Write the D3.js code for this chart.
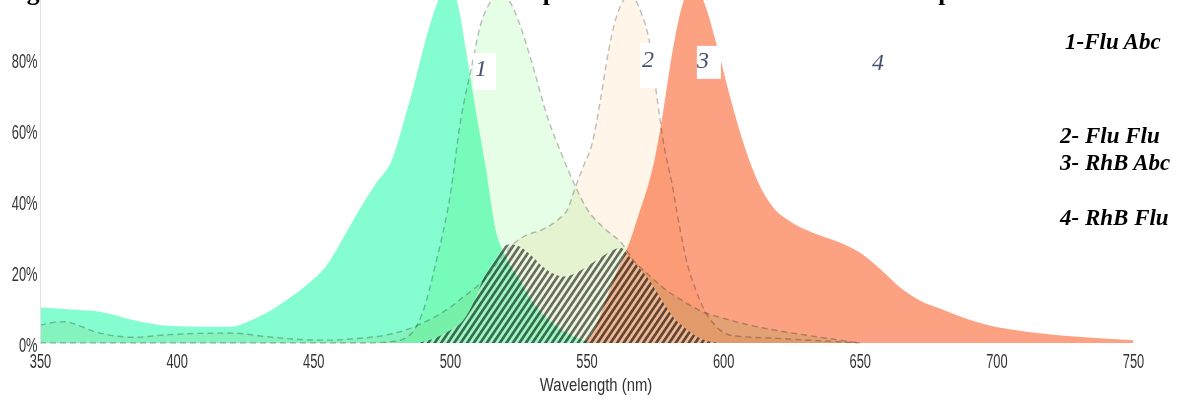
<!DOCTYPE html>
<html>
<head>
<meta charset="utf-8">
<script src="https://cdn.jsdelivr.net/npm/d3@7"></script>
<style>
  body { margin: 0; background: #fff; }
  svg { display: block; }
</style>
</head>
<body>
<div id="chart"></div>
<script>
// spectra: wavelength (nm) and relative intensity (%)
var fluAbsNm  = [350, 360, 372, 384, 398, 410, 420, 426, 433, 440, 447, 455, 462, 468, 473, 479, 483, 487, 491, 495, 499, 503, 506, 510, 513, 517, 520, 525, 530, 537, 545, 552];
var fluAbsPct = [10, 9.5, 8.8, 6.5, 4.8, 4.6, 4.6, 6, 8.5, 12, 16, 22, 31, 39, 45, 52, 62, 73, 85, 95, 101, 95, 82, 63, 50, 31, 25, 18.5, 12, 6, 2, 0];

var fluFluNm  = [350, 470, 480, 485, 490, 495, 500, 504, 508, 511, 514, 518, 522, 525, 530, 536, 541, 546, 550, 557, 563, 567, 573, 579, 585, 591, 600, 610, 620, 634, 650];
var fluFluPct = [0, 0, 0.5, 2, 8.5, 23, 41, 63, 78, 89, 95, 98, 96, 91, 79, 63, 53, 44, 38, 32, 28, 23.5, 19, 15, 12, 9.3, 7, 5, 3.5, 1.8, 0];

var rhbAbsNm  = [350, 355, 359, 364, 370, 375, 384, 396, 408, 420, 433, 445, 456, 465, 473, 480, 484, 490, 500, 505, 510, 514, 518, 522, 527, 534, 540, 543, 546, 549, 552, 555, 558, 561, 566, 570, 573.5, 576, 578.5, 581, 584, 587, 590, 593, 597, 604, 620, 650];
var rhbAbsPct = [5, 5.8, 6, 5, 3.2, 2.3, 1.6, 2.3, 2.7, 2.8, 1.8, 1, 0.8, 1.2, 1.8, 2.8, 3.7, 5.6, 10, 13, 16, 19, 23, 27, 30, 32, 35, 37.5, 44, 50, 56, 68, 82, 92, 98, 93, 83, 68, 55, 46, 33, 22, 15, 9.5, 5, 2, 1.3, 0];

var rhbFluNm  = [549, 553, 557, 561, 564, 566.5, 569, 572, 575, 578, 581, 585, 589, 593, 598, 603, 608, 613, 618, 625, 633, 642, 650, 658, 665, 672, 680, 694, 715, 735, 750];
var rhbFluPct = [0, 4, 12, 20, 25, 30, 36, 43, 52, 65, 80, 95, 101, 96, 83, 68, 55, 45, 38.5, 34, 31, 28.5, 25.5, 20.5, 15.5, 12, 9.5, 5.6, 2.8, 1.5, 0.8];

// hatched overlap band
var overlapNm  = [488, 495, 500, 505, 509, 512, 516, 519.5, 522, 526, 530, 534, 538, 541.5, 545, 550, 555, 560, 562.5, 566, 570, 573, 576, 579.3, 582, 585.5, 590, 595, 598];
var overlapPct = [0, 1.5, 3.5, 6.5, 12, 17.7, 23, 27, 27.8, 27, 24.5, 21.5, 19.5, 18.7, 19.3, 21.5, 24, 26.3, 26.8, 24, 20.5, 17.7, 14, 10, 7, 4.6, 2, 0.4, 0];

var xTicks = [350, 400, 450, 500, 550, 600, 650, 700, 750];
var yTicks = [0, 20, 40, 60, 80];
var legendLabels = ["1-Flu Abc", "2- Flu Flu", "3- RhB Abc", "4- RhB Flu"];
var peakLabels = ["1", "2", "3", "4"];
var titleText = "Figure 3. Absorbance and fluorescence emission spectra of Fluorescein and of RhB at pH 9";

var w = 1177, h = 400;
var svg = d3.select("#chart").append("svg").attr("width", w).attr("height", h);

var x = d3.scaleLinear().domain([350, 750]).range([40, 1133]);
var y = d3.scaleLinear().domain([0, 100]).range([343, -12]);

function pairs(nm, pct) {
  return nm.map(function(d, i) { return [d, pct[i]]; });
}

var area = d3.area().curve(d3.curveMonotoneX)
  .x(function(d) { return x(d[0]); })
  .y0(y(0))
  .y1(function(d) { return y(d[1]); });
var line = d3.line().curve(d3.curveMonotoneX)
  .x(function(d) { return x(d[0]); })
  .y(function(d) { return y(d[1]); });

// stripes for the overlap
var pat = svg.append("defs").append("pattern")
  .attr("id", "hatch")
  .attr("patternUnits", "userSpaceOnUse")
  .attr("width", 5.4).attr("height", 5.4)
  .attr("patternTransform", "rotate(34)");
pat.append("rect").attr("x", 2.7).attr("width", 2.7).attr("height", 5.4)
  .attr("fill", "#fff").attr("fill-opacity", 0.3);
pat.append("rect").attr("width", 2.7).attr("height", 5.4)
  .attr("fill", "#000").attr("fill-opacity", 0.55);

// title, sits above the frame so only descenders show
svg.append("text")
  .attr("x", 4).attr("y", -0.5)
  .attr("font-family", "Liberation Serif, Times New Roman, serif")
  .attr("font-weight", "bold")
  .attr("font-size", "25.6px")
  .text(titleText);

var fluFlu = pairs(fluFluNm, fluFluPct);
var rhbAbs = pairs(rhbAbsNm, rhbAbsPct);

svg.append("path").attr("d", area(fluFlu))
  .attr("fill", "#e6fde6").style("mix-blend-mode", "multiply");
svg.append("path").attr("d", area(rhbAbs))
  .attr("fill", "#fff5e8").style("mix-blend-mode", "multiply");
svg.append("path").attr("d", line(fluFlu))
  .attr("fill", "none").attr("stroke", "rgba(0,0,0,0.25)")
  .attr("stroke-width", 1.4).attr("stroke-dasharray", "6,4");
svg.append("path").attr("d", line(rhbAbs))
  .attr("fill", "none").attr("stroke", "rgba(0,0,0,0.25)")
  .attr("stroke-width", 1.4).attr("stroke-dasharray", "6,4");

svg.append("path").attr("d", area(pairs(fluAbsNm, fluAbsPct)))
  .attr("fill", "#84fdd0").style("mix-blend-mode", "multiply");
svg.append("path").attr("d", area(pairs(rhbFluNm, rhbFluPct)))
  .attr("fill", "#fca283").style("mix-blend-mode", "multiply");

svg.append("path").attr("d", area(pairs(overlapNm, overlapPct)))
  .attr("fill", "url(#hatch)");

// axes
var yAxis = svg.append("g")
  .attr("transform", "translate(40,0)")
  .call(d3.axisLeft(y).tickValues(yTicks).tickFormat(function(d) { return d + "%"; }).tickSize(0).tickSizeOuter(0));
yAxis.select(".domain").attr("stroke", "#e2e2e2");
yAxis.selectAll("text")
  .attr("x", -3.8).attr("y", 8).attr("dy", null)
  .attr("transform", "scale(0.66,1)")
  .attr("fill", "#333")
  .attr("font-family", "Liberation Sans, Arial, sans-serif")
  .attr("font-size", "19.5px");

var xAxis = svg.append("g")
  .attr("transform", "translate(0," + y(0) + ")")
  .call(d3.axisBottom(x).tickValues(xTicks).tickSize(0));
xAxis.select(".domain").remove();
xAxis.selectAll("text")
  .attr("y", 25).attr("dy", null)
  .attr("transform", "scale(0.66,1)")
  .attr("fill", "#333")
  .attr("font-family", "Liberation Sans, Arial, sans-serif")
  .attr("font-size", "19.5px");

svg.append("text")
  .attr("transform", "translate(596,391) scale(0.825,1)")
  .attr("text-anchor", "middle")
  .attr("fill", "#333")
  .attr("font-family", "Liberation Sans, Arial, sans-serif")
  .attr("font-size", "18px")
  .text("Wavelength (nm)");

// numbered peak tags on white boxes
var tagBoxes = [[508.5, 516.9, 81.7, 71.3], [569.6, 578.4, 84.5, 71.8], [590.4, 599.2, 83.7, 74.4]];
var tagAt = [[509.2, 75.2], [570.3, 77.7], [590.4, 77.5], [654.5, 76.9]];

svg.selectAll("rect.tagbox")
  .data(tagBoxes)
  .enter()
  .append("rect")
  .attr("class", "tagbox")
  .attr("x", function(d) { return x(d[0]); })
  .attr("y", function(d) { return y(d[2]); })
  .attr("width", function(d) { return x(d[1]) - x(d[0]); })
  .attr("height", function(d) { return y(d[3]) - y(d[2]); })
  .attr("fill", "#fff");

svg.selectAll("text.tag")
  .data(peakLabels)
  .enter()
  .append("text")
  .attr("class", "tag")
  .attr("x", function(d, i) { return x(tagAt[i][0]); })
  .attr("y", function(d, i) { return y(tagAt[i][1]); })
  .attr("font-family", "Liberation Serif, Times New Roman, serif")
  .attr("font-style", "italic")
  .attr("font-size", "24px")
  .attr("fill", "#46536f")
  .text(function(d) { return d; });

// legend block on the right
var legendPos = [[1065, 49], [1060, 143], [1060, 170], [1060, 225]];
svg.selectAll("text.legend")
  .data(legendLabels)
  .enter()
  .append("text")
  .attr("class", "legend")
  .attr("x", function(d, i) { return legendPos[i][0]; })
  .attr("y", function(d, i) { return legendPos[i][1]; })
  .attr("font-family", "Liberation Serif, Times New Roman, serif")
  .attr("font-weight", "bold")
  .attr("font-style", "italic")
  .attr("font-size", "23px")
  .attr("fill", "#000")
  .text(function(d) { return d; });
</script>
</body>
</html>
